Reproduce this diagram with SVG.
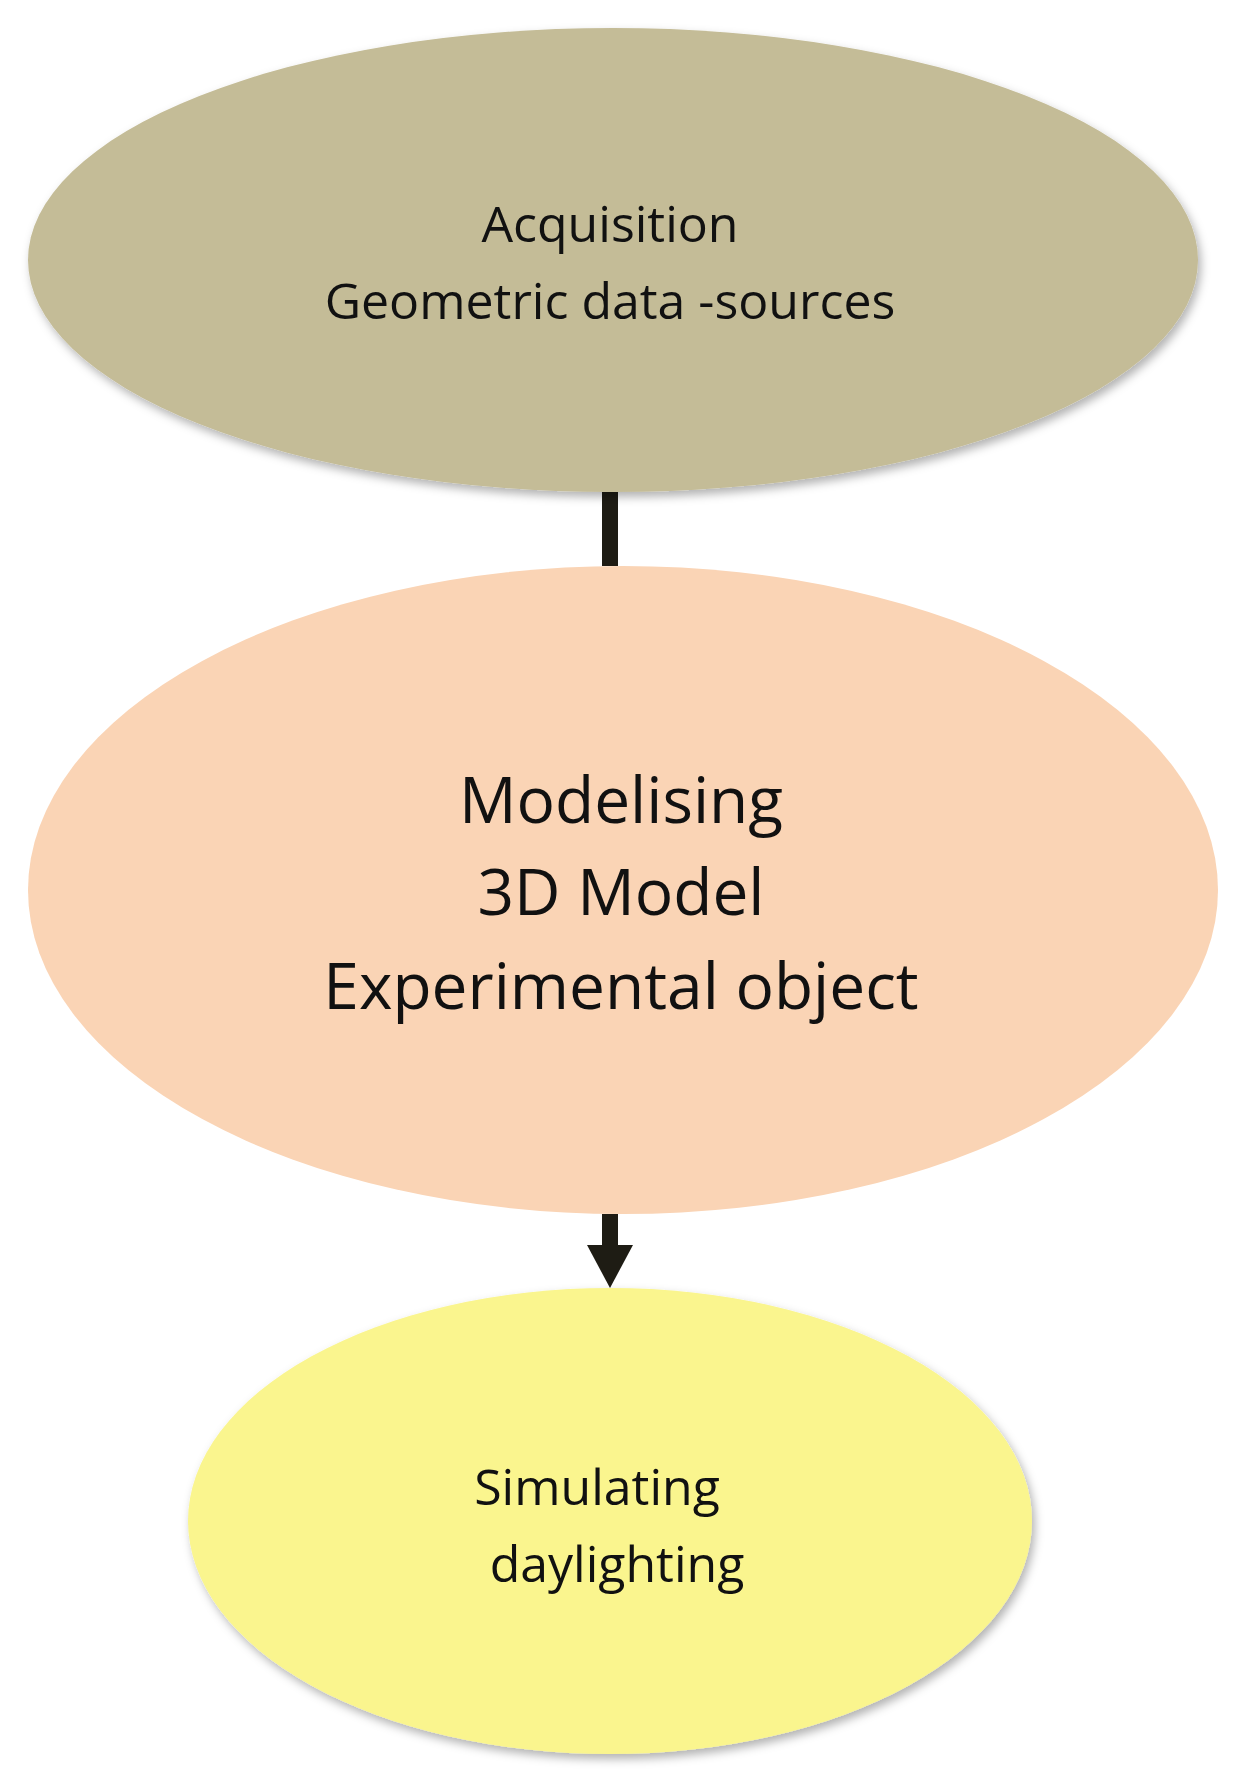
<svg xmlns="http://www.w3.org/2000/svg" width="1254" height="1772" viewBox="0 0 1254 1772">
<style>
text{font-family:"Open Sans","Liberation Sans",sans-serif;fill:#111;text-anchor:middle}
.conn{stroke:#1e1c14;stroke-width:16;fill:none}
</style>
<defs>
<filter id="sh" x="-10%" y="-10%" width="120%" height="125%"><feDropShadow dx="3" dy="5" stdDeviation="5" flood-color="#000" flood-opacity="0.3"/></filter>
</defs>
<rect width="1254" height="1772" fill="#fff"/>
<g id="connectors">
<line class="conn" x1="610" y1="492" x2="610" y2="566"/>
<line class="conn" x1="610" y1="1214" x2="610" y2="1250"/>
<polygon points="587,1245 633,1245 610,1288" fill="#1e1c14"/>
</g>
<g id="acquisition">
<ellipse cx="613" cy="260" rx="585" ry="232" fill="#c4bc97" filter="url(#sh)"/>
<text x="610" y="242" font-size="50">Acquisition</text>
<text x="610" y="319" font-size="50">Geometric data -sources</text>
</g>
<g id="modelising">
<ellipse cx="623" cy="890" rx="595" ry="324" fill="#fad4b5"/>
<text x="621" y="823" font-size="64">Modelising</text>
<text x="621" y="915" font-size="64">3D Model</text>
<text x="621" y="1009" font-size="64">Experimental object</text>
</g>
<g id="simulating">
<ellipse cx="610" cy="1521" rx="422" ry="233" fill="#faf58e" filter="url(#sh)"/>
<text x="597" y="1505" font-size="50">Simulating</text>
<text x="617" y="1582" font-size="50">daylighting</text>
</g>
</svg>
